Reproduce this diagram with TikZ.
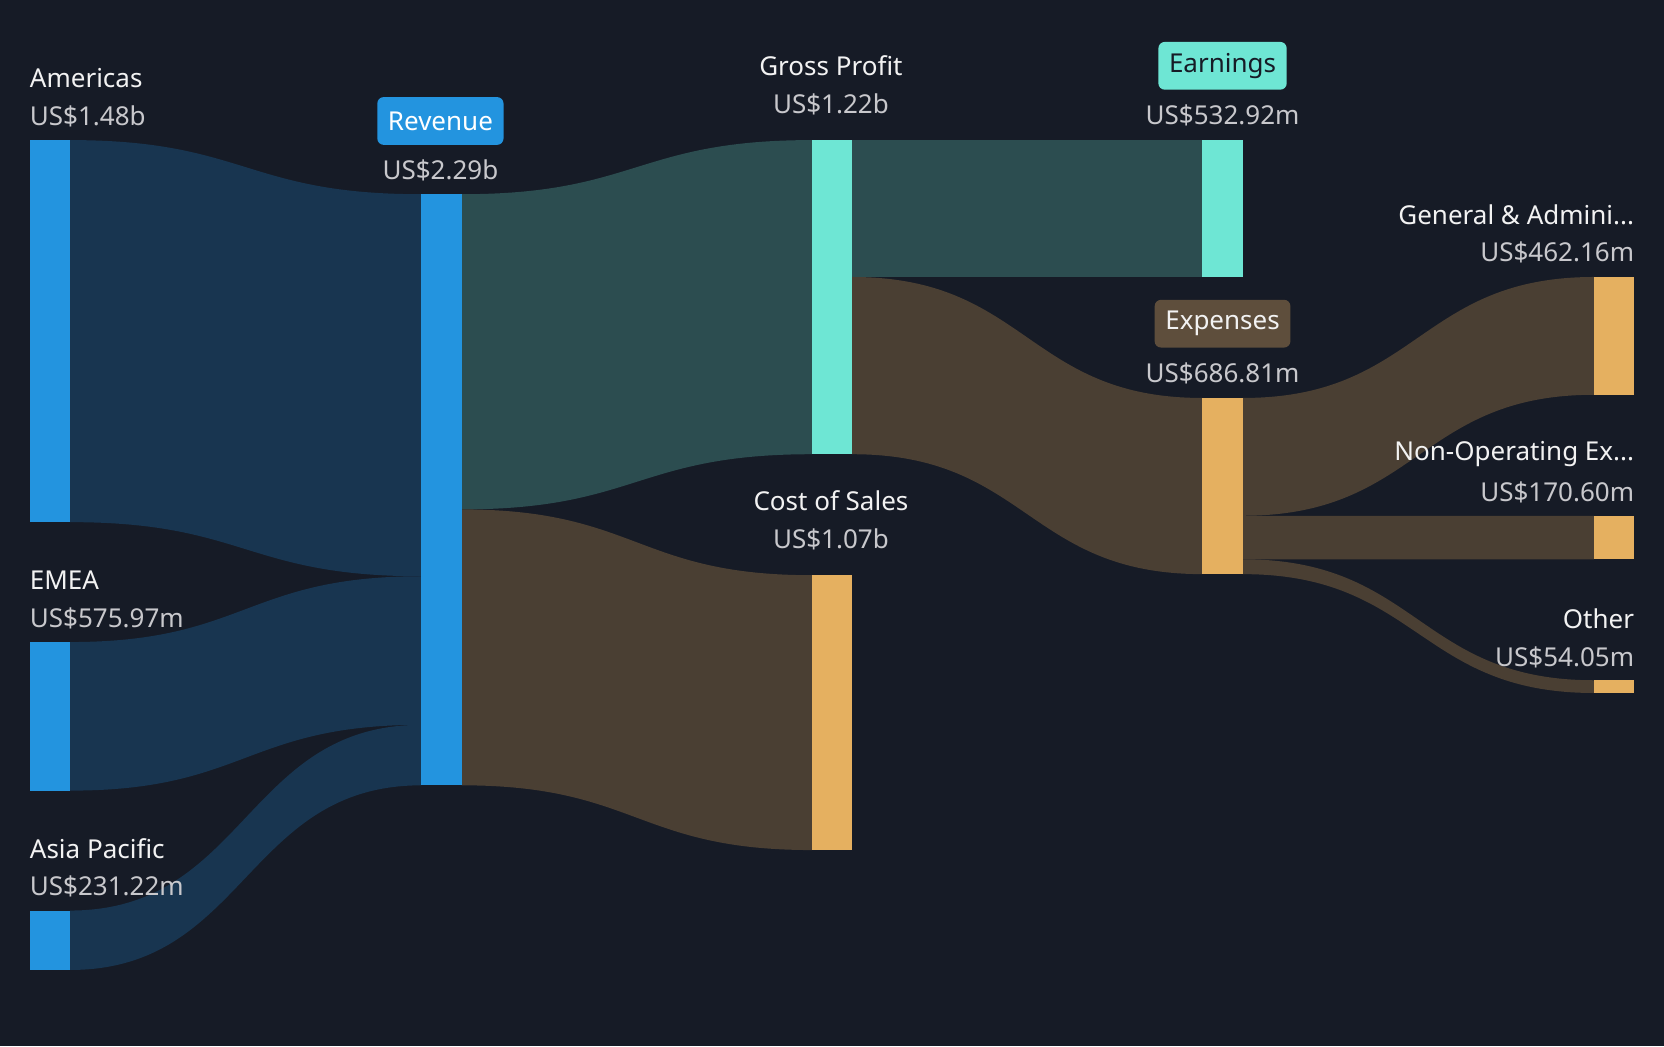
\documentclass[tikz,border=0pt]{standalone}
\usepackage{fontspec}
\setmainfont{Noto Sans}
\definecolor{bg}{HTML}{161B26}
\definecolor{cblue}{HTML}{2394DF}
\definecolor{lblue}{HTML}{183550}
\definecolor{cteal}{HTML}{6EE6D4}
\definecolor{lteal}{HTML}{2C4D50}
\definecolor{corange}{HTML}{E5B060}
\definecolor{lbrown}{HTML}{4A3F33}
\definecolor{bbrown}{HTML}{5E4E3C}
\definecolor{tname}{HTML}{F2F2F2}
\definecolor{tval}{HTML}{C8C8CC}
\newcommand{\flow}[7]{\fill[#7] (#1,#2) .. controls ({(#1+#4)/2},#2) and ({(#1+#4)/2},#5) .. (#4,#5) -- (#4,#6) .. controls ({(#1+#4)/2},#6) and ({(#1+#4)/2},#3) .. (#1,#3) -- cycle;}
\begin{document}
\begin{tikzpicture}[x=1pt,y=-1pt,
  every node/.style={font=\fontsize{24.5}{28}\selectfont, inner sep=0pt},
  nm/.style={text=tname},
  vl/.style={text=tval},
  badge/.style={rounded corners=6pt, inner xsep=10pt, minimum height=45pt, anchor=center}]
\fill[bg] (0,0) rectangle (1568,986);
\useasboundingbox (0,0) rectangle (1568,986);
% flows
\flow{66}{132}{492}{397}{183}{543}{lblue}
\flow{66}{605}{745}{397}{543}{683}{lblue}
\flow{66}{858}{914}{397}{683}{740}{lblue}
\flow{435}{183}{480}{765}{132}{428}{lteal}
\flow{435}{480}{740}{765}{542}{801}{lbrown}
\flow{803}{132}{261}{1133}{132}{261}{lteal}
\flow{803}{261}{428}{1133}{375}{541}{lbrown}
\flow{1171}{375}{486}{1502}{261}{372}{lbrown}
\flow{1171}{486}{527}{1502}{486}{527}{lbrown}
\flow{1171}{527}{541}{1502}{641}{653}{lbrown}
% bars
\fill[cblue] (28,132) rectangle (66,492);
\fill[cblue] (28,605) rectangle (66,745);
\fill[cblue] (28,858) rectangle (66,914);
\fill[cblue] (397,183) rectangle (435,740);
\fill[cteal] (765,132) rectangle (803,428);
\fill[corange] (765,542) rectangle (803,801);
\fill[cteal] (1133,132) rectangle (1171,261);
\fill[corange] (1133,375) rectangle (1171,541);
\fill[corange] (1502,261) rectangle (1540,372);
\fill[corange] (1502,486) rectangle (1540,527);
\fill[corange] (1502,641) rectangle (1540,653);
% labels
\node[nm, anchor=west] (am) at (28,74) {Americas};
\node[vl, anchor=west] (amv) at (28,110) {US\$1.48b};
\node[nm, anchor=west] (em) at (28,547) {EMEA};
\node[vl, anchor=west] (emv) at (28,583) {US\$575.97m};
\node[nm, anchor=west] (ap) at (28,800) {Asia Pacific};
\node[vl, anchor=west] (apv) at (28,835) {US\$231.22m};
\node[badge, fill=cblue, text=white] (rev) at (415,114) {Revenue};
\node[vl] (revv) at (415,161) {US\$2.29b};
\node[nm] (gp) at (783,62) {Gross Profit};
\node[vl] (gpv) at (783,98) {US\$1.22b};
\node[nm] (cs) at (783,472) {Cost of Sales};
\node[vl] (csv) at (783,508) {US\$1.07b};
\node[badge, fill=cteal, text=bg] (ea) at (1152,62) {Earnings};
\node[vl] (eav) at (1152,109) {US\$532.92m};
\node[badge, fill=bbrown, text=tname] (ex) at (1152,305) {Expenses};
\node[vl] (exv) at (1152,352) {US\$686.81m};
\node[nm, anchor=east] (ga) at (1540,202) {General \& Admini...};
\node[vl, anchor=east] (gav) at (1540,238) {US\$462.16m};
\node[nm, anchor=east] (no) at (1540,428) {Non-Operating Ex...};
\node[vl, anchor=east] (nov) at (1540,464) {US\$170.60m};
\node[nm, anchor=east] (ot) at (1540,583) {Other};
\node[vl, anchor=east] (otv) at (1540,619) {US\$54.05m};
\end{tikzpicture}
\end{document}
